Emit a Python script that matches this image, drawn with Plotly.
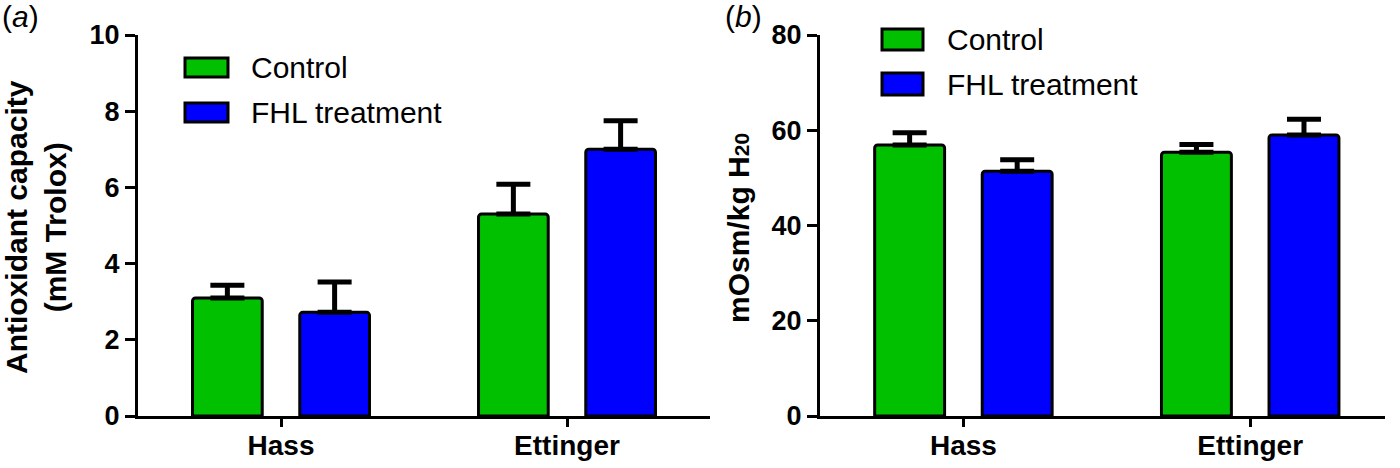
import plotly.graph_objects as go

# data (mean + upper SEM)
groups = ["Hass", "Ettinger"]
series = ["Control", "FHL treatment"]

antiox_control = [3.1, 5.3]
antiox_control_err = [0.33, 0.78]
antiox_fhl = [2.72, 7.0]
antiox_fhl_err = [0.8, 0.75]

osm_control = [56.9, 55.4]
osm_control_err = [2.6, 1.6]
osm_fhl = [51.4, 59.0]
osm_fhl_err = [2.4, 3.3]

antiox_ticks = [0, 2, 4, 6, 8, 10]
osm_ticks = [0, 20, 40, 60, 80]

GREEN = "rgb(0,192,0)"
BLUE = "rgb(0,0,255)"
FONT = "Arial, Liberation Sans, sans-serif"
W, H = 1400, 468


def px(x):
    return x / W


def py(y):
    return 1 - y / H


def bar(name, y, err, color, xa, ya):
    return go.Bar(
        name=name, x=groups, y=y, xaxis=xa, yaxis=ya,
        marker=dict(color=color, line=dict(color="black", width=3), cornerradius=3),
        error_y=dict(type="data", array=err, arrayminus=[0] * len(err),
                     symmetric=False, color="black", thickness=5, width=17),
        showlegend=False,
    )


fig = go.Figure()
fig.add_trace(bar(series[0], antiox_control, antiox_control_err, GREEN, "x", "y"))
fig.add_trace(bar(series[1], antiox_fhl, antiox_fhl_err, BLUE, "x", "y"))
fig.add_trace(bar(series[0], osm_control, osm_control_err, GREEN, "x2", "y2"))
fig.add_trace(bar(series[1], osm_fhl, osm_fhl_err, BLUE, "x2", "y2"))

ydom = [py(416), py(35)]
xcommon = dict(showline=True, linecolor="black", linewidth=3, ticks="outside",
               ticklen=8, tickwidth=3, tickcolor="black", showgrid=False,
               zeroline=False, automargin=False, ticklabelstandoff=-6,
               tickfont=dict(family=FONT, size=28, color="black", weight="bold"))
ycommon = dict(showline=True, linecolor="black", linewidth=3, ticks="outside",
               ticklen=10, tickwidth=3, tickcolor="black", showgrid=False,
               zeroline=False, automargin=False, domain=ydom,
               tickfont=dict(family=FONT, size=27, color="black", weight="bold"))

fig.update_layout(
    width=W, height=H,
    margin=dict(l=0, r=0, t=0, b=0),
    paper_bgcolor="white", plot_bgcolor="white",
    barmode="group", bargap=0.25, bargroupgap=0.35,
    font=dict(family=FONT, color="black"),
    xaxis=dict(xcommon, domain=[px(138), px(710)], range=[-0.5, 1.5], anchor="y"),
    yaxis=dict(ycommon, range=[0, 10], tickvals=antiox_ticks, anchor="x"),
    xaxis2=dict(xcommon, domain=[px(820), px(1385)], range=[-0.5, 1.47], anchor="y2"),
    yaxis2=dict(ycommon, range=[0, 80], tickvals=osm_ticks, anchor="x2"),
)

# axis titles
fig.add_annotation(x=px(36), y=py(227), xref="paper", yref="paper",
                   xanchor="center", yanchor="middle",
                   text="<b>Antioxidant capacity<br>(mM Trolox)</b>", textangle=-90,
                   showarrow=False, font=dict(family=FONT, size=30, color="black"))
fig.add_annotation(x=px(738), y=py(228), xref="paper", yref="paper",
                   xanchor="center", yanchor="middle",
                   text="<b>mOsm/kg H<span style='font-size:21px'>20</span></b>",
                   textangle=-90, showarrow=False,
                   font=dict(family=FONT, size=30, color="black"))

# panel letters
for label, x in [("(<i>a</i>)", 0), ("(<i>b</i>)", 723)]:
    fig.add_annotation(x=px(x), y=py(-2), xref="paper", yref="paper", text=label,
                       xanchor="left", yanchor="top", showarrow=False,
                       font=dict(family=FONT, size=30, color="black"))

# legends drawn as boxes + text
legend_rows = [
    # (swatch x0, x1, green y0, y1, blue y0, y1, text x)
    (185, 228, 58, 77, 103, 122, 249),
    (882, 923, 29, 50, 73, 95, 945),
]
for x0, x1, gy0, gy1, by0, by1, tx in legend_rows:
    for (y0, y1), color, name in [((gy0, gy1), GREEN, series[0]), ((by0, by1), BLUE, series[1])]:
        fig.add_shape(type="rect", xref="paper", yref="paper",
                      x0=px(x0), x1=px(x1), y0=py(y1), y1=py(y0),
                      fillcolor=color, line=dict(color="black", width=3))
        fig.add_annotation(x=px(tx), y=py((y0 + y1) / 2), xref="paper", yref="paper",
                           text=name, xanchor="left", yanchor="middle", showarrow=False,
                           font=dict(family=FONT, size=30, color="black"))

fig.write_html("out.html", config={"displayModeBar": False},
               post_script="document.body.style.margin='0';")
